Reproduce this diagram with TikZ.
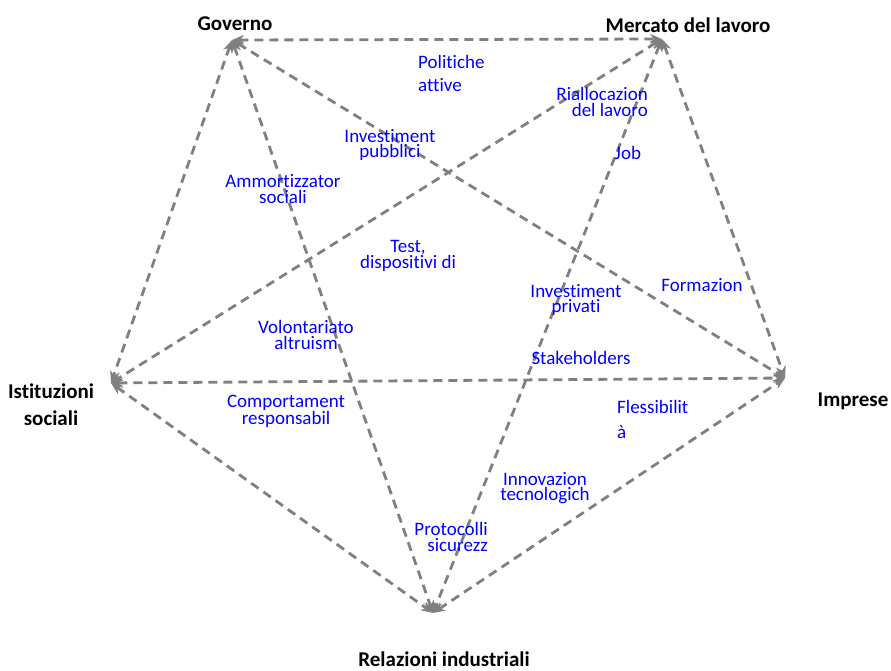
\documentclass[tikz,border=0pt]{standalone}
\usepackage{fontspec}
\setmainfont{Carlito}[Ligatures=NoCommon]
\usepackage{tikz}
\usetikzlibrary{arrows.meta}
\definecolor{linkgray}{HTML}{808080}
\definecolor{topicblue}{HTML}{0000FF}

\begin{document}
\begin{tikzpicture}[x=1pt, y=-1pt, actor/.style={font=\fontsize{21}{27}\selectfont\bfseries, align=center, inner sep=0pt}, topic/.style={font=\fontsize{19}{15.5}\selectfont, text=topicblue, align=center, inner sep=0pt}, link/.style={{Stealth[length=12pt,width=10pt]}-{Stealth[length=12pt,width=10pt]}, linkgray, line width=2.8pt, dash pattern=on 9pt off 6pt}]
\useasboundingbox (0,0) rectangle (891,671);
% vertices
\coordinate (gov) at (232,40);
\coordinate (mer) at (662,39);
\coordinate (ist) at (111,383);
\coordinate (imp) at (785,378);
\coordinate (rel) at (433,613);
\node[actor] (govlab) at (235,24) {Governo};
\node[actor] (merlab) at (688,25) {Mercato del lavoro};
\node[actor] (istlab) at (51,405) {Istituzioni\\sociali};
\node[actor] (implab) at (853,401) {Imprese};
\node[actor] (rellab) at (444,659) {Relazioni industriali};
% connectors
\draw[link] (gov)--(mer);
\draw[link] (gov)--(ist);
\draw[link] (gov)--(rel);
\draw[link] (gov)--(imp);
\draw[link] (mer)--(ist);
\draw[link] (mer)--(rel);
\draw[link] (mer)--(imp);
\draw[link] (ist)--(imp);
\draw[link] (ist)--(rel);
\draw[link] (rel)--(imp);
% themes
\node[topic, font=\fontsize{19}{23}\selectfont, align=left, anchor=west] (politiche) at (418,73) {Politiche\\attive};
\node[topic, align=right, anchor=east] (riallocazione) at (648,102) {Riallocazion\\del lavoro};
\node[topic] (job) at (628,153) {Job};
\node[topic] (pubblici) at (390,145) {Investiment\\pubblici};
\node[topic] (ammortizzatori) at (283,189) {Ammortizzator\\sociali};
\node[topic] (test) at (408,256) {Test,\\dispositivi di};
\node[topic] (privati) at (576,300) {Investiment\\privati};
\node[topic] (formazione) at (702,285) {Formazion};
\node[topic] (volontariato) at (306,335) {Volontariato\\altruism};
\node[topic] (stakeholders) at (581,358) {Stakeholders};
\node[topic] (comportamenti) at (286,411) {Comportament\\responsabil};
\node[topic, font=\fontsize{19}{25}\selectfont, align=left, anchor=west] (flessibilita) at (617,419) {Flessibilit\\à};
\node[topic] (innovazione) at (545,488) {Innovazion\\tecnologich};
\node[topic, align=right, anchor=east] (protocolli) at (488,537) {Protocolli\\sicurezz};
\end{tikzpicture}
\end{document}
